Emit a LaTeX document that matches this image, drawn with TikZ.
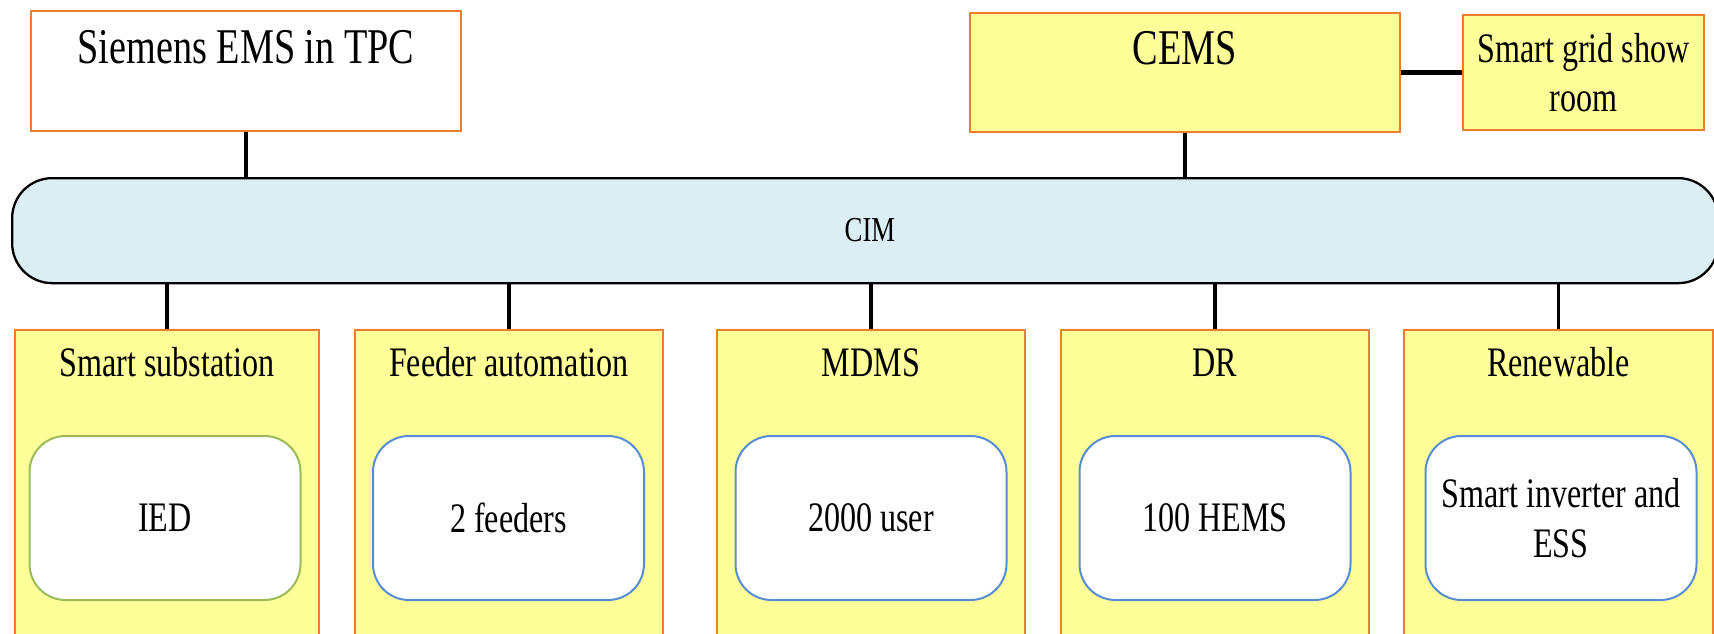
\documentclass[tikz,border=0pt]{standalone}
\usepackage{fontspec}
\setmainfont{Liberation Serif}[FakeStretch=0.765]
\definecolor{boxorange}{HTML}{ED7D31}
\definecolor{boxyellow}{HTML}{FFFF99}
\definecolor{cimblue}{HTML}{DAEEF3}
\definecolor{ingreen}{HTML}{9BBB59}
\definecolor{inblue}{HTML}{558ED5}
\begin{document}
\begin{tikzpicture}[x=1pt,y=-1pt,
  topbox/.style={draw=boxorange, line width=1.8pt, inner sep=0pt, rectangle},
  colbox/.style={draw=boxorange, fill=boxyellow, line width=1.8pt, inner sep=0pt, rectangle, minimum height=310pt},
  innerbox/.style={draw=#1, fill=white, line width=2pt, rounded corners=36pt, inner sep=0pt, minimum width=271pt, minimum height=164pt, align=center, font=\fontsize{42}{50}\selectfont},
  bigtxt/.style={inner sep=0pt, anchor=base, font=\fontsize{50}{56}\selectfont},
  midtxt/.style={inner sep=0pt, anchor=base, font=\fontsize{42}{49}\selectfont},
  link/.style={line width=3.3pt, black},
  thicklink/.style={line width=5pt, black}]
\path[use as bounding box, clip] (0,0) rectangle (1714,634);
\fill[white] (0,0) rectangle (1714,634);

% top boxes
\node[topbox, fill=white, minimum width=430pt, minimum height=120pt] (siemens) at (246,71) {};
\node[bigtxt] (siemensT) at (246,64) {Siemens EMS in TPC};
\node[topbox, fill=boxyellow, minimum width=430pt, minimum height=119pt] (cems) at (1185,72.5) {};
\node[bigtxt] (cemsT) at (1185,65) {CEMS};
\node[topbox, fill=boxyellow, minimum width=241pt, minimum height=115pt, align=center,
      font=\fontsize{42}{49}\selectfont] (show) at (1583.5,72.5) {Smart grid show\\room};

% CIM bar
\node[draw=black, fill=cimblue, line width=2.3pt, rounded corners=40pt, inner sep=0pt,
      minimum width=1706pt, minimum height=105pt, anchor=north west] (cim) at (11,177) {};
\node[inner sep=0pt, font=\fontsize{35}{40}\selectfont] (cimT) at (870,230) {CIM};

% bottom columns
\node[colbox, minimum width=304pt] (sub) at (167,485) {};
\node[colbox, minimum width=308pt] (fa) at (509,485) {};
\node[colbox, minimum width=308pt] (mdms) at (871,485) {};
\node[colbox, minimum width=308pt] (dr) at (1215,485) {};
\node[colbox, minimum width=309pt] (ren) at (1558.5,485) {};

\node[midtxt] (subT) at (167,376) {Smart substation};
\node[midtxt] (faT) at (509,376) {Feeder automation};
\node[midtxt] (mdmsT) at (871,376) {MDMS};
\node[midtxt] (drT) at (1215,376) {DR};
\node[midtxt] (renT) at (1558.5,376) {Renewable};

\node[innerbox=ingreen] (ied) at (165,518) {IED};
\node[innerbox=inblue] (feed) at (508.5,518) {2 feeders};
\node[innerbox=inblue] (user) at (871,518) {2000 user};
\node[innerbox=inblue] (hems) at (1215,518) {100 HEMS};
\node[innerbox=inblue] (inv) at (1561,518) {Smart inverter and\\ESS};

% connectors
\draw[link] (siemens.south) -- (siemens.south |- cim.north);
\draw[link] (cems.south) -- (cems.south |- cim.north);
\draw[thicklink] (cems.east) -- (show.west);
\foreach \b in {sub,fa,mdms,dr,ren}{
  \draw[link] (\b.north |- cim.south) -- (\b.north);
}
\end{tikzpicture}
\end{document}
